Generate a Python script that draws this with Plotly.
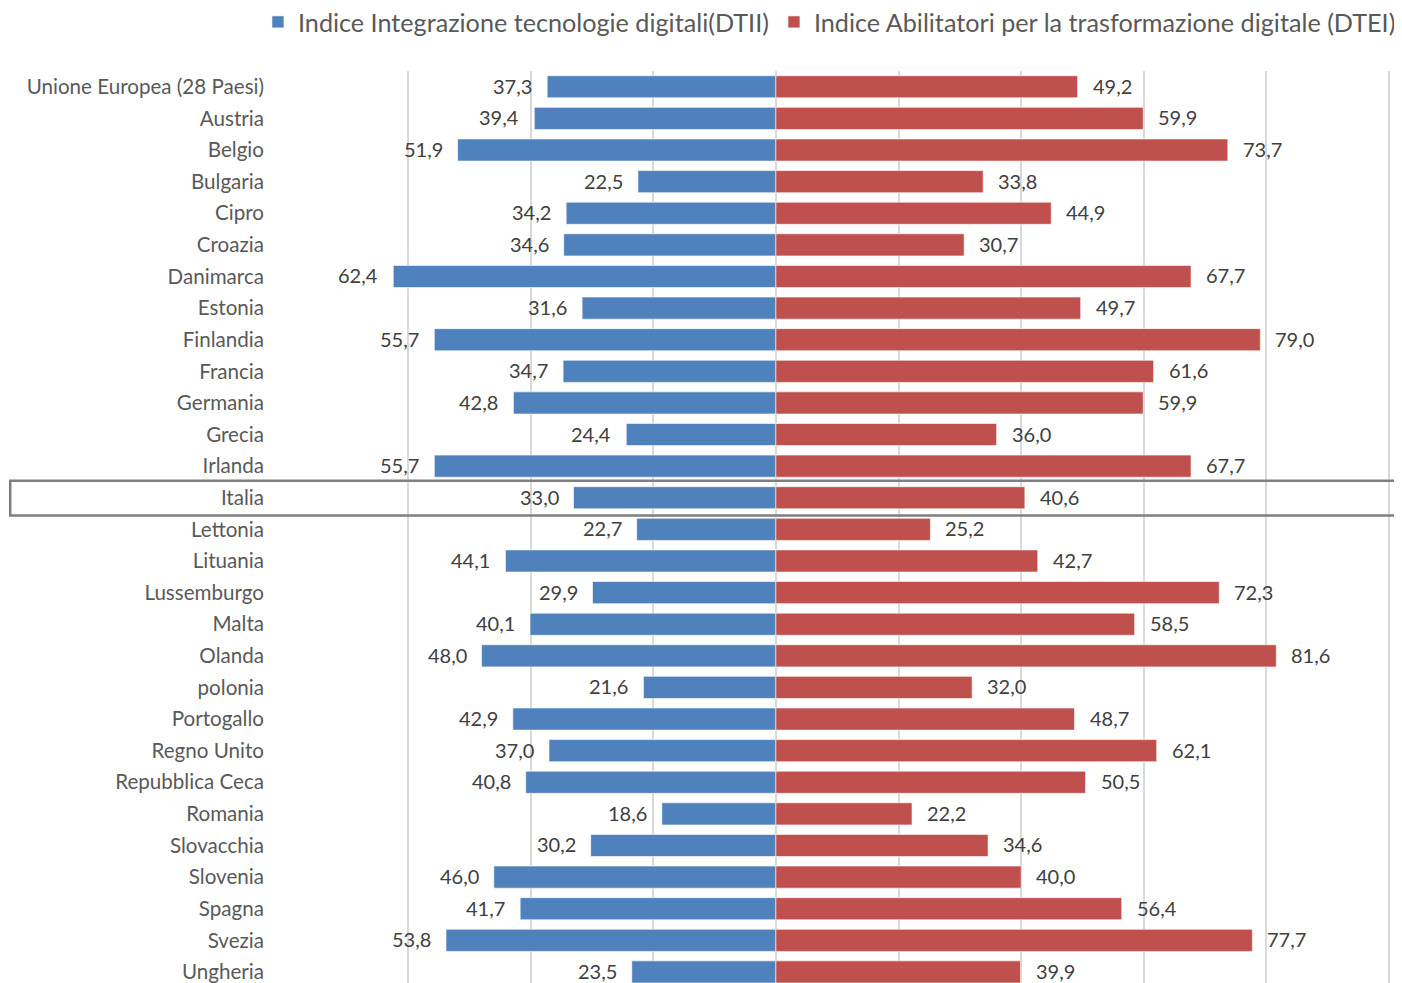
import plotly.graph_objects as go

categories = ["Unione Europea (28 Paesi)", "Austria", "Belgio", "Bulgaria", "Cipro", "Croazia",
              "Danimarca", "Estonia", "Finlandia", "Francia", "Germania", "Grecia", "Irlanda",
              "Italia", "Lettonia", "Lituania", "Lussemburgo", "Malta", "Olanda", "polonia",
              "Portogallo", "Regno Unito", "Repubblica Ceca", "Romania", "Slovacchia",
              "Slovenia", "Spagna", "Svezia", "Ungheria"]
dtii = [37.3, 39.4, 51.9, 22.5, 34.2, 34.6, 62.4, 31.6, 55.7, 34.7, 42.8, 24.4, 55.7,
        33.0, 22.7, 44.1, 29.9, 40.1, 48.0, 21.6, 42.9, 37.0, 40.8, 18.6, 30.2, 46.0,
        41.7, 53.8, 23.5]
dtei = [49.2, 59.9, 73.7, 33.8, 44.9, 30.7, 67.7, 49.7, 79.0, 61.6, 59.9, 36.0, 67.7,
        40.6, 25.2, 42.7, 72.3, 58.5, 81.6, 32.0, 48.7, 62.1, 50.5, 22.2, 34.6, 40.0,
        56.4, 77.7, 39.9]
series_names = ["Indice Integrazione tecnologie digitali(DTII)",
                "Indice Abilitatori per la trasformazione digitale (DTEI)"]
highlight = "Italia"

BLUE = "#4F81BD"
RED = "#C0504D"
FONT = "Lato, Carlito, Calibri, sans-serif"

def fmt(v):
    return f"{v:.1f}".replace(".", ",")

ypos = list(range(len(categories)))

fig = go.Figure()
fig.add_trace(go.Bar(y=ypos, x=[-v for v in dtii], orientation="h", name=series_names[0],
                     marker=dict(color=BLUE, line=dict(color="rgba(255,255,255,0.6)", width=1)),
                     hoverinfo="skip"))
fig.add_trace(go.Bar(y=ypos, x=dtei, orientation="h", name=series_names[1],
                     marker=dict(color=RED, line=dict(color="rgba(255,255,255,0.6)", width=1)),
                     hoverinfo="skip"))

annotations = []
for i, (a, b) in enumerate(zip(dtii, dtei)):
    annotations.append(dict(x=-a, y=i, xref="x", yref="y", text=fmt(a), showarrow=False,
                            xanchor="right", xshift=-13, yshift=1,
                            font=dict(family=FONT, size=20, color="#404040")))
    annotations.append(dict(x=b, y=i, xref="x", yref="y", text=fmt(b), showarrow=False,
                            xanchor="left", xshift=13, yshift=1,
                            font=dict(family=FONT, size=20, color="#404040")))

hi = categories.index(highlight)
shapes = [dict(type="rect", xref="paper", yref="y", x0=-0.246, x1=1.03,
               y0=hi - 0.54, y1=hi + 0.56, line=dict(color="#7F7F7F", width=2.5),
               fillcolor="rgba(0,0,0,0)", layer="above")]

fig.update_layout(
    width=1394, height=975,
    margin=dict(l=277, r=0, t=63, b=0, autoexpand=False),
    paper_bgcolor="white", plot_bgcolor="white",
    barmode="overlay", bargap=0.3,
    font=dict(family=FONT, color="#595959"),
    showlegend=True,
    legend=dict(orientation="h", xref="paper", yref="paper", x=-0.0242, xanchor="left",
                y=1.0537, yanchor="middle", font=dict(size=25.2, color="#595959"),
                itemwidth=30, traceorder="normal", bgcolor="rgba(0,0,0,0)"),
    annotations=annotations,
    shapes=shapes,
)
fig.update_xaxes(range=[-80.05, 102.1], showticklabels=False, showgrid=True,
                 gridcolor="#D9D9D9", gridwidth=1.5, dtick=20, tick0=0,
                 zeroline=True, zerolinecolor="#D9D9D9", zerolinewidth=2, showline=False)
fig.update_yaxes(range=[28.35, -0.5], tickvals=ypos, ticktext=categories, showgrid=False,
                 zeroline=False, showline=False, ticks="", ticklabelstandoff=20,
                 ticklabeloverflow="allow",
                 tickfont=dict(size=20.6, color="#595959"))

fig.write_html("out.html")
